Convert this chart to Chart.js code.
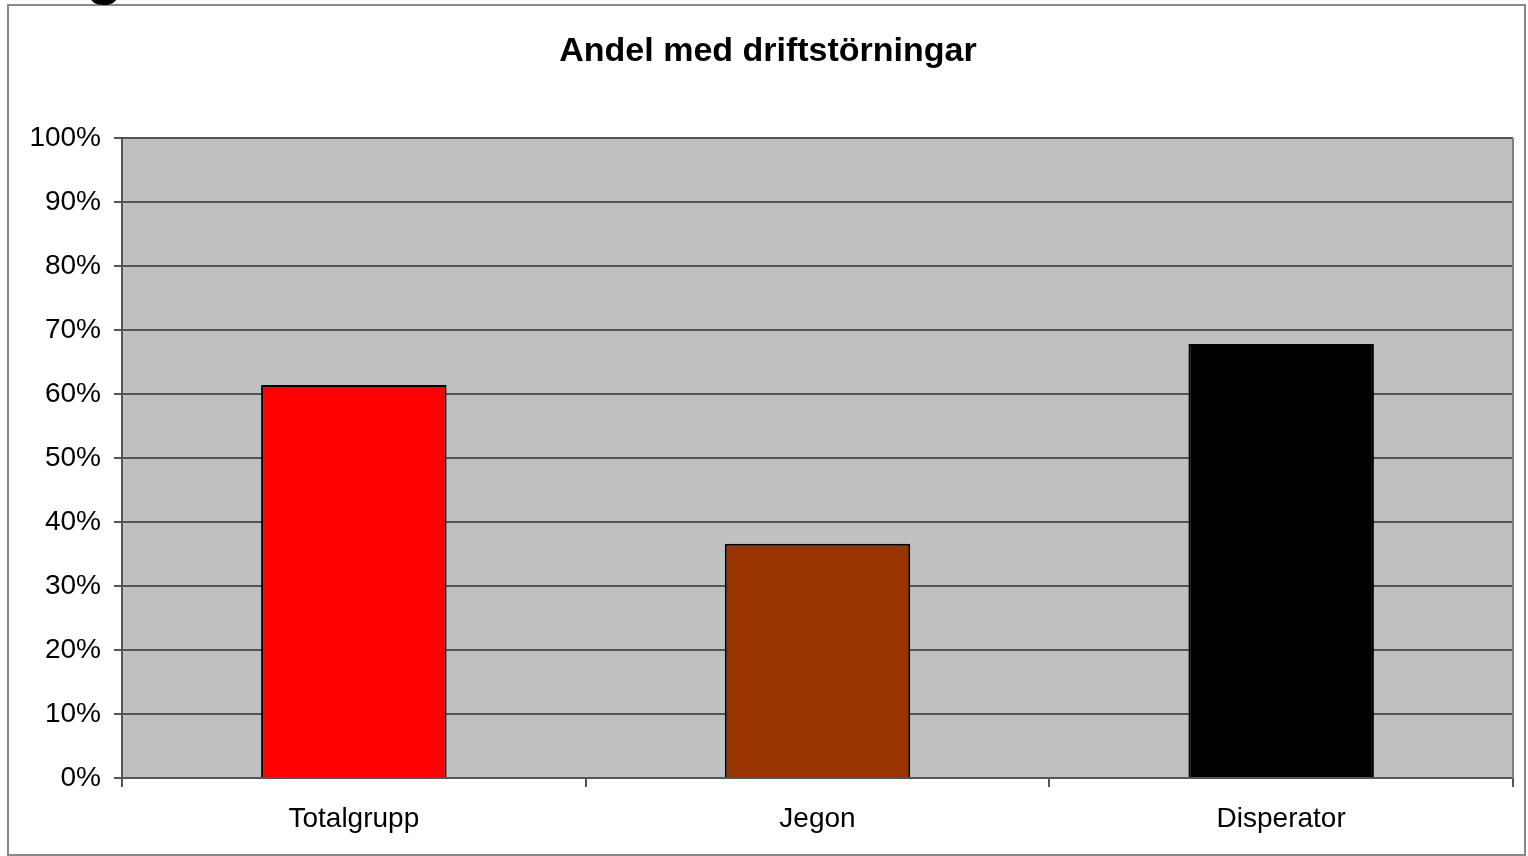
<!DOCTYPE html>
<html>
<head>
<meta charset="utf-8">
<script src="https://cdn.jsdelivr.net/npm/chart.js@4/dist/chart.umd.min.js"></script>
<style>
html,body{margin:0;padding:0;background:#fff;overflow:hidden;}
#wrap{position:absolute;left:0;top:0;width:1528px;height:856px;}
#frag{position:absolute;left:86px;top:-57px;font:bold 60px "Liberation Sans",Arial,sans-serif;color:#000;line-height:1;}
</style>
</head>
<body>
<div id="wrap"><canvas id="c" width="1528" height="856"></canvas></div>
<div id="frag">g</div>
<script>
const titleText = 'Andel med driftstörningar';
const categories = ['Totalgrupp', 'Jegon', 'Disperator'];
const values = [61.4, 36.6, 67.8];
const barColors = ['#ff0000', '#993300', '#000000'];
const yTicks = [0,10,20,30,40,50,60,70,80,90,100];

const framePlugin = {
  id: 'frame',
  beforeDraw(chart) {
    const ctx = chart.ctx;
    const a = chart.chartArea;
    ctx.save();
    ctx.fillStyle = '#fff';
    ctx.fillRect(0,0,chart.width,chart.height);
    ctx.strokeStyle = '#888';
    ctx.lineWidth = 2;
    ctx.strokeRect(8, 5, 1517, 850);
    ctx.fillStyle = '#c0c0c0';
    ctx.fillRect(a.left, a.top, a.right - a.left, a.bottom - a.top);
    ctx.fillStyle = '#000';
    ctx.font = 'bold 34px "Liberation Sans", Arial, sans-serif';
    ctx.textAlign = 'center';
    ctx.textBaseline = 'middle';
    ctx.fillText(titleText, 768, 52);
    ctx.restore();
  },
  afterDatasetsDraw(chart) {
    const ctx = chart.ctx;
    const a = chart.chartArea;
    ctx.save();
    ctx.strokeStyle = '#808080';
    ctx.lineWidth = 2;
    ctx.beginPath();
    ctx.moveTo(a.right, a.top);
    ctx.lineTo(a.right, a.bottom);
    ctx.stroke();
    ctx.restore();
  }
};

new Chart(document.getElementById('c'), {
  type: 'bar',
  data: {
    labels: categories,
    datasets: [{
      data: values,
      backgroundColor: barColors,
      borderColor: '#000',
      borderWidth: 2,
      barPercentage: 0.4,
      categoryPercentage: 1.0
    }]
  },
  options: {
    responsive: false,
    animation: false,
    events: [],
    layout: { padding: { top: 138, right: 15, left: 0, bottom: 0 } },
    plugins: { legend: { display: false }, title: { display: false }, tooltip: { enabled: false } },
    scales: {
      y: {
        min: 0, max: 100,
        afterBuildTicks(s) { s.ticks = yTicks.map(v => ({ value: v })); },
        afterFit(s) { s.width = 122; },
        ticks: {
          callback: v => v + '%',
          color: '#000',
          padding: 13,
          font: { family: '"Liberation Sans", Arial, sans-serif', size: 28 }
        },
        grid: { color: '#555', lineWidth: 2, tickLength: 8, drawTicks: true },
        border: { display: true, color: '#555', width: 2 }
      },
      x: {
        afterFit(s) { s.height = 78; },
        ticks: {
          color: '#000',
          padding: 15,
          font: { family: '"Liberation Sans", Arial, sans-serif', size: 28 }
        },
        grid: { display: true, drawOnChartArea: false, offset: true, color: '#555', lineWidth: 2, tickLength: 9 },
        border: { display: true, color: '#555', width: 2 }
      }
    }
  },
  plugins: [framePlugin]
});
</script>
</body>
</html>
